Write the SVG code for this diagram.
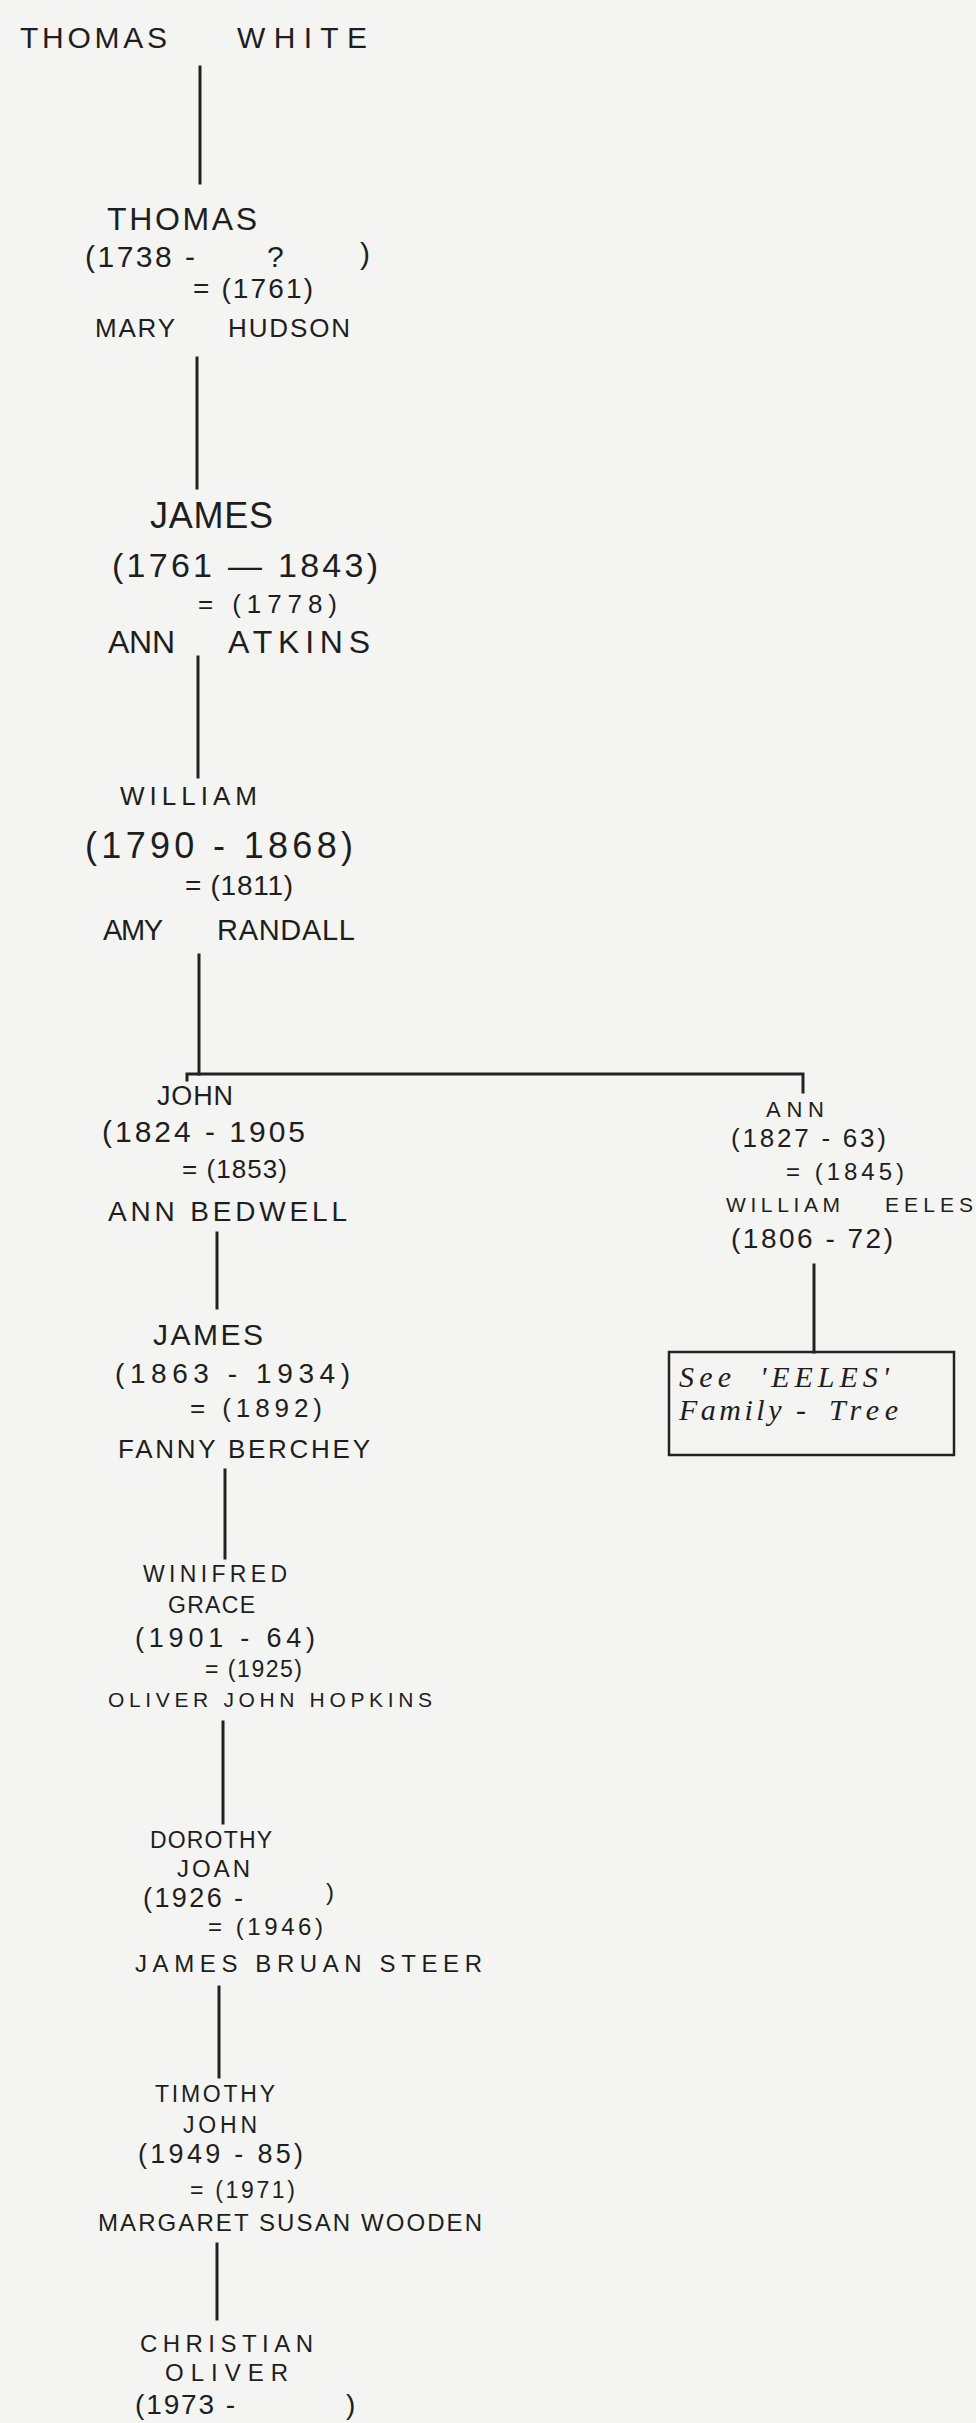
<svg xmlns="http://www.w3.org/2000/svg" width="976" height="2423" viewBox="0 0 976 2423">
<style>
.t{font-family:"Liberation Sans",Arial,sans-serif;fill:#1e1e1e}
.h{font-family:"Liberation Serif","Times New Roman",serif;font-style:italic;fill:#1e1e1e}
.c{stroke:#222;stroke-width:3;fill:none;stroke-linecap:square}
.box{stroke:#222;stroke-width:2.5;fill:none}
</style>
<rect width="976" height="2423" fill="#f4f4f2"/>
<g id="connectors">
<line class="c" x1="200" y1="67" x2="200" y2="183"/>
<line class="c" x1="197" y1="358" x2="197" y2="488"/>
<line class="c" x1="198" y1="657" x2="198" y2="777"/>
<line class="c" x1="199" y1="955" x2="199" y2="1074"/>
<polyline class="c" points="187,1080 187,1074 803,1074 803,1092"/>
<line class="c" x1="217" y1="1233" x2="217" y2="1308"/>
<line class="c" x1="225" y1="1470" x2="225" y2="1558"/>
<line class="c" x1="223" y1="1722" x2="223" y2="1823"/>
<line class="c" x1="219" y1="1987" x2="219" y2="2077"/>
<line class="c" x1="217" y1="2244" x2="217" y2="2319"/>
<line class="c" x1="814" y1="1265" x2="814" y2="1352"/>
</g>
<g id="n0">
<text class="t" x="20" y="48" font-size="30" textLength="147">THOMAS</text>
<text class="t" x="237" y="48" font-size="30" textLength="130">WHITE</text>
</g>
<g id="n1">
<text class="t" x="107" y="230" font-size="32" textLength="150">THOMAS</text>
<text class="t" x="85" y="267" font-size="30" textLength="110">(1738 -</text>
<text class="t" x="267" y="267" font-size="30">?</text>
<text class="t" x="360" y="264" font-size="30">)</text>
<text class="t" x="193" y="298" font-size="28" textLength="120">= (1761)</text>
<text class="t" x="95" y="337" font-size="26" textLength="80">MARY</text>
<text class="t" x="228" y="337" font-size="26" textLength="122">HUDSON</text>
</g>
<g id="n2">
<text class="t" x="150" y="528" font-size="36" textLength="123">JAMES</text>
<text class="t" x="112" y="577" font-size="34" textLength="266">(1761 — 1843)</text>
<text class="t" x="198" y="613" font-size="26" textLength="139">= (1778)</text>
<text class="t" x="108" y="653" font-size="32" textLength="67">ANN</text>
<text class="t" x="228" y="653" font-size="32" textLength="142">ATKINS</text>
</g>
<g id="n3">
<text class="t" x="120" y="805" font-size="26" textLength="137">WILLIAM</text>
<text class="t" x="85" y="858" font-size="36" textLength="268">(1790 - 1868)</text>
<text class="t" x="185" y="895" font-size="28" textLength="108">= (1811)</text>
<text class="t" x="103" y="940" font-size="29" textLength="60">AMY</text>
<text class="t" x="217" y="940" font-size="29" textLength="138">RANDALL</text>
</g>
<g id="n4">
<text class="t" x="157" y="1105" font-size="27" textLength="76">JOHN</text>
<text class="t" x="102" y="1142" font-size="30" textLength="203">(1824 - 1905</text>
<text class="t" x="182" y="1178" font-size="26" textLength="105">= (1853)</text>
<text class="t" x="108" y="1221" font-size="28" textLength="239">ANN BEDWELL</text>
</g>
<g id="n5">
<text class="t" x="153" y="1345" font-size="30" textLength="110">JAMES</text>
<text class="t" x="115" y="1383" font-size="28" textLength="235">(1863 - 1934)</text>
<text class="t" x="190" y="1417" font-size="26" textLength="132">= (1892)</text>
<text class="t" x="118" y="1458" font-size="26" textLength="252">FANNY BERCHEY</text>
</g>
<g id="n6">
<text class="t" x="143" y="1582" font-size="23" textLength="144">WINIFRED</text>
<text class="t" x="168" y="1613" font-size="23" textLength="87">GRACE</text>
<text class="t" x="135" y="1647" font-size="27" textLength="180">(1901 - 64)</text>
<text class="t" x="205" y="1677" font-size="23" textLength="97">= (1925)</text>
<text class="t" x="108" y="1707" font-size="21" textLength="324">OLIVER JOHN HOPKINS</text>
</g>
<g id="n7">
<text class="t" x="150" y="1848" font-size="23" textLength="122">DOROTHY</text>
<text class="t" x="177" y="1877" font-size="24" textLength="73">JOAN</text>
<text class="t" x="143" y="1907" font-size="27" textLength="100">(1926 -</text>
<text class="t" x="326" y="1900" font-size="24">)</text>
<text class="t" x="208" y="1935" font-size="24" textLength="115">= (1946)</text>
<text class="t" x="135" y="1972" font-size="24" textLength="347">JAMES BRUAN STEER</text>
</g>
<g id="n8">
<text class="t" x="155" y="2102" font-size="23" textLength="120">TIMOTHY</text>
<text class="t" x="183" y="2133" font-size="23" textLength="74">JOHN</text>
<text class="t" x="138" y="2163" font-size="27" textLength="165">(1949 - 85)</text>
<text class="t" x="190" y="2198" font-size="23" textLength="105">= (1971)</text>
<text class="t" x="98" y="2231" font-size="24" textLength="384">MARGARET SUSAN WOODEN</text>
</g>
<g id="n9">
<text class="t" x="140" y="2352" font-size="24" textLength="173">CHRISTIAN</text>
<text class="t" x="165" y="2381" font-size="24" textLength="123">OLIVER</text>
<text class="t" x="135" y="2414" font-size="28" textLength="100">(1973 -</text>
<text class="t" x="346" y="2414" font-size="28">)</text>
</g>
<g id="n10">
<text class="t" x="766" y="1117" font-size="22" textLength="58">ANN</text>
<text class="t" x="731" y="1147" font-size="26" textLength="155">(1827 - 63)</text>
<text class="t" x="786" y="1180" font-size="24" textLength="118">= (1845)</text>
<text class="t" x="726" y="1212" font-size="21" textLength="114">WILLIAM</text>
<text class="t" x="885" y="1212" font-size="21" textLength="88">EELES</text>
<text class="t" x="731" y="1248" font-size="28" textLength="162">(1806 - 72)</text>
</g>
<g id="n11">
<rect class="box" x="669" y="1352" width="285" height="103"/>
<text class="h" x="679" y="1387" font-size="30" textLength="52">See</text>
<text class="h" x="760" y="1387" font-size="30" textLength="129">'EELES'</text>
<text class="h" x="679" y="1420" font-size="30" textLength="127">Family -</text>
<text class="h" x="829" y="1420" font-size="30" textLength="69">Tree</text>
</g>
</svg>
